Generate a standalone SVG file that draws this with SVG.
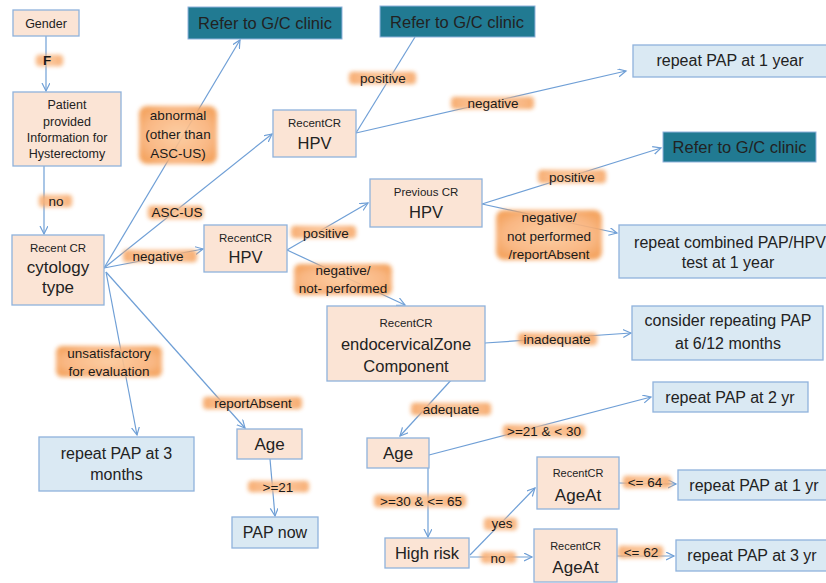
<svg xmlns="http://www.w3.org/2000/svg" width="826" height="583" viewBox="0 0 826 583">
<style>
.n{fill:#fbe4d5;stroke:#8fb2dc;stroke-width:1.3}
.b{fill:#dae9f3;stroke:#8fb2dc;stroke-width:1.3}
.t{fill:#217a92;stroke:#8fb2dc;stroke-width:1}
text{font-family:"Liberation Sans",Arial,sans-serif;fill:#222;text-anchor:middle}
.s{font-size:11.5px}
.m{font-size:16.5px}
.L{font-size:17px}
.lab{font-size:13.5px;fill:#1a1a1a}
.c{stroke:#6f9fd6;stroke-width:1.2;fill:none}
.a{marker-end:url(#ar)}
.g{fill:url(#glow);filter:url(#blur);opacity:0.9}
</style>
<defs>
<marker id="ar" markerUnits="userSpaceOnUse" markerWidth="12" markerHeight="12" refX="8" refY="4" orient="auto">
<path d="M0,0 L8,4 L0,8" fill="none" stroke="#6f9fd6" stroke-width="1.2"/>
</marker>
<filter id="blur" x="-30%" y="-60%" width="160%" height="220%">
<feGaussianBlur stdDeviation="2.2"/>
</filter>
<radialGradient id="glow" cx="0.5" cy="0.5" r="0.6">
<stop offset="0" stop-color="#fcc99a"/>
<stop offset="0.7" stop-color="#f9b077"/>
<stop offset="1" stop-color="#f39a4e"/>
</radialGradient>
</defs>
<rect width="826" height="583" fill="#ffffff"/>
<g id="connectors">
<line class="c a" x1="46" y1="36" x2="46" y2="91"/>
<line class="c a" x1="44" y1="166" x2="44" y2="234"/>
<line class="c a" x1="104" y1="268" x2="240" y2="40"/>
<line class="c a" x1="104" y1="268" x2="272" y2="134"/>
<line class="c a" x1="104" y1="268" x2="203" y2="249"/>
<line class="c a" x1="106" y1="272" x2="137" y2="435"/>
<line class="c a" x1="106" y1="272" x2="245" y2="428"/>
<line class="c" x1="356" y1="133" x2="415" y2="37"/>
<line class="c a" x1="356" y1="133" x2="626" y2="71"/>
<line class="c a" x1="287" y1="250" x2="368" y2="203"/>
<line class="c a" x1="287" y1="250" x2="405" y2="305"/>
<line class="c a" x1="482" y1="204" x2="661" y2="148"/>
<line class="c a" x1="482" y1="204" x2="617" y2="233"/>
<line class="c a" x1="485" y1="343" x2="631" y2="333"/>
<line class="c a" x1="485" y1="343" x2="400" y2="436"/>
<line class="c a" x1="429" y1="455" x2="651" y2="397"/>
<line class="c a" x1="428" y1="468" x2="428" y2="537"/>
<line class="c a" x1="470" y1="555" x2="535" y2="488"/>
<line class="c a" x1="470" y1="557" x2="532" y2="557"/>
<line class="c a" x1="619" y1="483" x2="676" y2="484"/>
<line class="c a" x1="617" y1="556" x2="674" y2="556"/>
<line class="c a" x1="270" y1="459" x2="275" y2="516"/>
<g id="labels">
<rect class="g" x="36" y="55" width="27" height="11" rx="4"/>
<text class="lab" x="47" y="65" font-weight="bold">F</text>
<rect class="g" x="39" y="195" width="33" height="12" rx="4"/>
<text class="lab" x="56" y="206">no</text>
<rect class="g" x="139" y="106" width="78" height="58" rx="8"/>
<text class="lab" x="178" y="120" font-size="14">abnormal</text>
<text class="lab" x="178" y="139" font-size="14">(other than</text>
<text class="lab" x="178" y="158" font-size="14">ASC-US)</text>
<rect class="g" x="148" y="206" width="55" height="13" rx="4"/>
<text class="lab" x="177" y="217">ASC-US</text>
<rect class="g" x="123" y="250" width="74" height="12" rx="4"/>
<text class="lab" x="158" y="261">negative</text>
<rect class="g" x="56" y="346" width="106" height="31" rx="6"/>
<text class="lab" x="109" y="358">unsatisfactory</text>
<text class="lab" x="109" y="376">for evaluation</text>
<rect class="g" x="203" y="397" width="99" height="12" rx="4"/>
<text class="lab" x="253" y="408">reportAbsent</text>
<rect class="g" x="248" y="481" width="61" height="11" rx="4"/>
<text class="lab" x="278" y="492">&gt;=21</text>
<rect class="g" x="349" y="72" width="67" height="12" rx="4"/>
<text class="lab" x="383" y="83">positive</text>
<rect class="g" x="451" y="97" width="83" height="12" rx="4"/>
<text class="lab" x="493" y="108">negative</text>
<rect class="g" x="291" y="226" width="65" height="12" rx="4"/>
<text class="lab" x="326" y="238">positive</text>
<rect class="g" x="294" y="264" width="98" height="31" rx="6"/>
<text class="lab" x="343" y="275">negative/</text>
<text class="lab" x="343" y="293">not- performed</text>
<rect class="g" x="538" y="170" width="68" height="13" rx="4"/>
<text class="lab" x="572" y="182">positive</text>
<rect class="g" x="496" y="210" width="106" height="50" rx="8"/>
<text class="lab" x="549" y="222">negative/</text>
<text class="lab" x="549" y="241">not performed</text>
<text class="lab" x="549" y="259">/reportAbsent</text>
<rect class="g" x="518" y="333" width="79" height="12" rx="4"/>
<text class="lab" x="557" y="344">inadequate</text>
<rect class="g" x="411" y="403" width="80" height="12" rx="4"/>
<text class="lab" x="451" y="414">adequate</text>
<rect class="g" x="503" y="425" width="82" height="12" rx="4"/>
<text class="lab" x="544" y="436">&gt;=21 &amp; &lt; 30</text>
<rect class="g" x="374" y="495" width="92" height="12" rx="4"/>
<text class="lab" x="421" y="506">&gt;=30 &amp; &lt;= 65</text>
<rect class="g" x="484" y="518" width="33" height="12" rx="4"/>
<text class="lab" x="502" y="528">yes</text>
<rect class="g" x="481" y="552" width="35" height="11" rx="4"/>
<text class="lab" x="498" y="563">no</text>
<rect class="g" x="623" y="476" width="48" height="12" rx="4"/>
<text class="lab" x="645" y="487">&lt;= 64</text>
<rect class="g" x="618" y="546" width="45" height="12" rx="4"/>
<text class="lab" x="641" y="557">&lt;= 62</text>
</g>
</g>
<g id="gender"><rect class="n" x="13" y="10" width="66" height="26"/><text x="46" y="27.5" font-size="12.5">Gender</text></g>
<g id="patient"><rect class="n" x="13" y="92" width="108" height="74"/>
<text x="67" y="109" font-size="12.5">Patient</text>
<text x="67" y="126" font-size="12.5">provided</text>
<text x="67" y="142" font-size="12.5">Information for</text>
<text x="67" y="158" font-size="12.5">Hysterectomy</text></g>
<g id="cytology"><rect class="n" x="12" y="235" width="92" height="70"/>
<text class="s" x="58" y="252">Recent CR</text>
<text class="L" x="58" y="273">cytology</text>
<text class="L" x="58" y="293">type</text></g>
<g id="refer1"><rect class="t" x="188" y="7" width="154" height="32"/><text class="m" x="265" y="29" fill="#111">Refer to G/C clinic</text></g>
<g id="refer2"><rect class="t" x="380" y="6" width="155" height="31"/><text class="m" x="457" y="28">Refer to G/C clinic</text></g>
<g id="refer3"><rect class="t" x="663" y="132" width="153" height="30"/><text class="m" x="739.5" y="153">Refer to G/C clinic</text></g>
<g id="hpv-upper"><rect class="n" x="273" y="110" width="83" height="47"/>
<text class="s" x="314.5" y="127">RecentCR</text>
<text class="m" x="314.5" y="149">HPV</text></g>
<g id="repeat-1-year"><rect class="b" x="633" y="45" width="200" height="32"/><text font-size="16" x="730" y="66">repeat PAP at 1 year</text></g>
<g id="hpv-previous"><rect class="n" x="370" y="179" width="112" height="48"/>
<text class="s" x="426" y="196">Previous CR</text>
<text class="m" x="426" y="218">HPV</text></g>
<g id="hpv-mid"><rect class="n" x="204" y="225" width="83" height="47"/>
<text class="s" x="245.5" y="242">RecentCR</text>
<text class="m" x="245.5" y="263">HPV</text></g>
<g id="repeat-combined"><rect class="b" x="619" y="225" width="215" height="53"/>
<text font-size="16" x="730" y="248">repeat combined PAP/HPV</text>
<text font-size="16" x="728" y="268">test at 1 year</text></g>
<g id="endocervical"><rect class="n" x="327" y="306" width="158" height="75"/>
<text class="s" x="406" y="327">RecentCR</text>
<text class="m" x="406" y="350">endocervicalZone</text>
<text class="m" x="406" y="372">Component</text></g>
<g id="consider"><rect class="b" x="632" y="306" width="191" height="54"/>
<text font-size="16" x="728" y="326">consider repeating PAP</text>
<text font-size="16" x="728" y="349">at 6/12 months</text></g>
<g id="age-mid"><rect class="n" x="367" y="438" width="62" height="30"/><text class="L" x="398" y="459">Age</text></g>
<g id="repeat-2yr"><rect class="b" x="653" y="382" width="155" height="30"/><text font-size="16" x="730" y="403">repeat PAP at 2 yr</text></g>
<g id="ageat-upper"><rect class="n" x="537" y="457" width="82" height="52"/>
<text font-size="11" x="578" y="477">RecentCR</text>
<text class="L" x="578" y="501">AgeAt</text></g>
<g id="repeat-1yr"><rect class="b" x="678" y="470" width="160" height="30"/><text font-size="16" x="754" y="491">repeat PAP at 1 yr</text></g>
<g id="ageat-lower"><rect class="n" x="534" y="529" width="83" height="53"/>
<text font-size="11" x="575.5" y="550">RecentCR</text>
<text class="L" x="575.5" y="573">AgeAt</text></g>
<g id="repeat-3yr"><rect class="b" x="676" y="540" width="160" height="31"/><text font-size="16" x="752" y="561">repeat PAP at 3 yr</text></g>
<g id="high-risk"><rect class="n" x="385" y="538" width="84" height="30"/><text class="m" x="427" y="559">High risk</text></g>
<g id="repeat-3months"><rect class="b" x="39" y="437" width="155" height="54"/>
<text font-size="16" x="116.5" y="459">repeat PAP at 3</text>
<text font-size="16" x="116.5" y="480">months</text></g>
<g id="age-left"><rect class="n" x="237" y="429" width="65" height="30"/><text class="L" x="269.5" y="450">Age</text></g>
<g id="pap-now"><rect class="b" x="232" y="517" width="86" height="31"/><text font-size="16" x="275" y="538">PAP now</text></g>
</svg>
